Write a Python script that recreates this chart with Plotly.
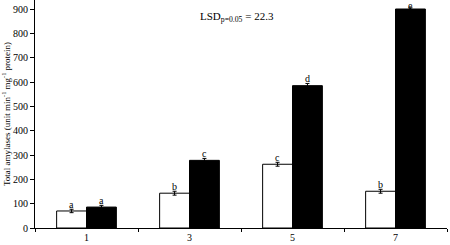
import plotly.graph_objects as go

categories = ["1", "3", "5", "7"]
white_vals = [70, 143, 262, 151]
black_vals = [86, 278, 585, 900]
white_err = [7, 8, 8, 8]
black_err = [7, 8, 9, 5]
white_letters = ["a", "b", "c", "b"]
black_letters = ["a", "c", "d", "e"]
y_ticks = [0, 100, 200, 300, 400, 500, 600, 700, 800, 900]

FONT = "Liberation Serif"

fig = go.Figure()
fig.add_trace(go.Bar(
    x=categories, y=white_vals,
    marker=dict(color="white", line=dict(color="black", width=1)),
    error_y=dict(type="data", array=white_err, color="black", thickness=1, width=2),
    showlegend=False,
))
fig.add_trace(go.Bar(
    x=categories, y=black_vals,
    marker=dict(color="black", line=dict(color="black", width=1)),
    error_y=dict(type="data", array=black_err, color="black", thickness=1, width=2),
    showlegend=False,
))

annotations = []
for i, (v, e, t) in enumerate(zip(white_vals, white_err, white_letters)):
    annotations.append(dict(x=i, y=v + e, text=t, showarrow=False, xshift=-15,
                            yanchor="bottom", yshift=-3,
                            font=dict(family=FONT, size=10, color="black")))
for i, (v, e, t) in enumerate(zip(black_vals, black_err, black_letters)):
    annotations.append(dict(x=i, y=v + e, text=t, showarrow=False, xshift=15,
                            yanchor="bottom", yshift=-3 if i < 3 else -5,
                            font=dict(family=FONT, size=10, color="black")))
annotations.append(dict(xref="paper", yref="paper", x=0.49, y=0.925, xanchor="center",
                        yanchor="middle", showarrow=False,
                        text="LSD<sub>p=0.05</sub> = 22.3",
                        font=dict(family=FONT, size=11, color="black")))

fig.update_layout(
    width=450, height=245,
    margin=dict(l=35, r=3, t=0, b=17),
    paper_bgcolor="white", plot_bgcolor="white",
    barmode="group", bargap=0.42, bargroupgap=0,
    font=dict(family=FONT, size=10, color="black"),
    annotations=annotations,
    xaxis=dict(
        type="category", range=[-0.5, 3.5], showline=True, linecolor="black", linewidth=1,
        ticks="outside", tickson="boundaries", ticklen=3, tickcolor="black",
        showgrid=False, tickfont=dict(family=FONT, size=10), automargin=False,
    ),
    yaxis=dict(
        range=[0, 937], tickvals=y_ticks, showline=True, linecolor="black",
        linewidth=1, ticks="outside", ticklen=4, tickcolor="black", showgrid=False,
        zeroline=False, tickfont=dict(family=FONT, size=10), automargin=False,
        title=dict(text="Total amylases (unit min<sup>-1</sup> mg<sup>-1</sup> protein)",
                   font=dict(family=FONT, size=9)),
    ),
)

fig.write_html("out.html", config={"displayModeBar": False},
               post_script="document.body.style.margin='0';")
